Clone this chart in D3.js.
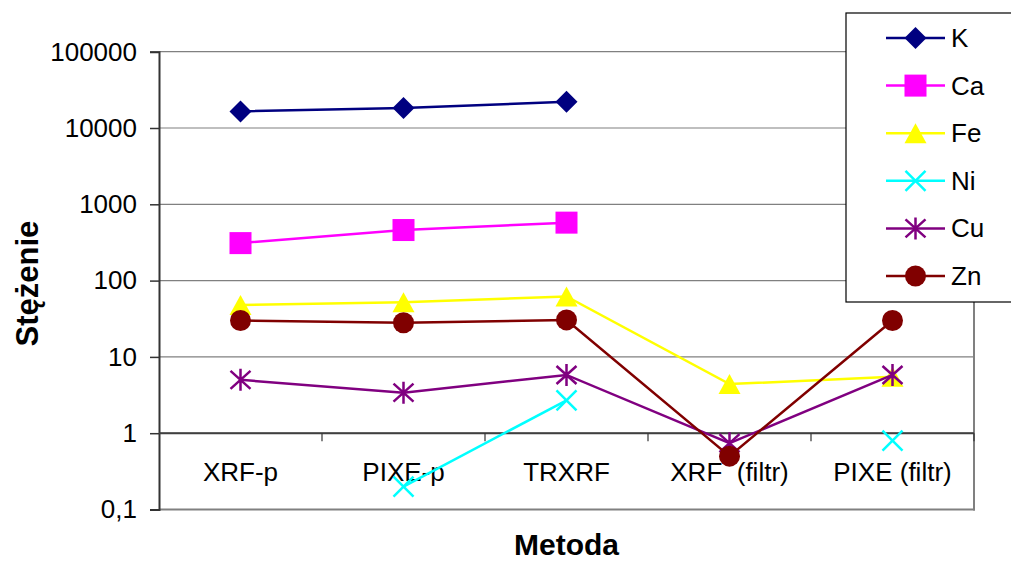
<!DOCTYPE html>
<html lang="pl">
<head>
    <meta charset="UTF-8">
    <title>Stężenie - Metoda</title>
    <script src="https://d3js.org/d3.v7.min.js"></script>
    <style>
        body { margin: 0; background: #fff; }
        svg { display: block; font-family: Arial, "Liberation Sans", sans-serif; }
    </style>
</head>
<body>
    <svg width="1011" height="561"></svg>

    <script>
        // dane
        const categories = ["XRF-p", "PIXE-p", "TRXRF", "XRF  (filtr)", "PIXE (filtr)"];
        const seriesNames = ["K", "Ca", "Fe", "Ni", "Cu", "Zn"];
        const K  = [16500, 18300, 22000, null, null];
        const Ca = [310, 460, 575, null, null];
        const Fe = [48, 52, 62, 4.4, 5.5];
        const Ni = [null, 0.2, 2.7, null, 0.8];
        const Cu = [5, 3.4, 5.8, 0.74, 5.8];
        const Zn = [30, 28, 30.5, 0.5, 30];
        const yTicks = [0.1, 1, 10, 100, 1000, 10000, 100000];
        const yTickLabels = ["0,1", "1", "10", "100", "1000", "10000", "100000"];

        const seriesValues = [K, Ca, Fe, Ni, Cu, Zn];
        const colors = ["#000080", "#FF00FF", "#FFFF00", "#00FFFF", "#800080", "#800000"];
        const markers = ["diamond", "square", "triangle", "x", "star", "circle"];

        const svg = d3.select("svg");
        const plotLeft = 159, plotRight = 974, plotTop = 51.7, plotBottom = 509.5;

        const x = d3.scaleBand()
            .domain(categories)
            .range([plotLeft, plotRight])
            .padding(0);

        const y = d3.scaleLog()
            .domain([0.1, 100000])
            .range([plotBottom, plotTop]);

        // linie siatki
        svg.append("g")
            .selectAll("line")
            .data(yTicks)
            .enter().append("line")
            .attr("x1", plotLeft)
            .attr("x2", plotRight)
            .attr("y1", d => y(d))
            .attr("y2", d => y(d))
            .attr("stroke", "#808080")
            .attr("stroke-width", 1.2);

        // ramka obszaru wykresu (prawa i dolna krawędź)
        svg.append("line")
            .attr("x1", plotRight).attr("x2", plotRight)
            .attr("y1", plotTop).attr("y2", plotBottom + 1)
            .attr("stroke", "#808080").attr("stroke-width", 2);
        svg.append("line")
            .attr("x1", plotLeft).attr("x2", plotRight + 1)
            .attr("y1", plotBottom).attr("y2", plotBottom)
            .attr("stroke", "#808080").attr("stroke-width", 2);

        // oś Y
        const yAxis = d3.axisLeft(y)
            .tickValues(yTicks)
            .tickFormat((d, i) => yTickLabels[i])
            .tickSize(9)
            .tickPadding(13);

        const gy = svg.append("g")
            .attr("transform", `translate(${plotLeft},0)`)
            .call(yAxis);
        gy.select(".domain").attr("stroke", "#333").attr("stroke-width", 2);
        gy.selectAll(".tick line").attr("stroke", "#333").attr("stroke-width", 1.5);
        gy.selectAll(".tick text")
            .attr("fill", "#000")
            .style("font-size", "26px")
            .style("font-family", "Arial, 'Liberation Sans', sans-serif");

        // oś X przecina oś Y w wartości 1
        const xAxisY = y(1);
        svg.append("line")
            .attr("x1", plotLeft).attr("x2", plotRight)
            .attr("y1", xAxisY).attr("y2", xAxisY)
            .attr("stroke", "#404040").attr("stroke-width", 2);

        const bounds = categories.map(c => x(c) + x.bandwidth());
        svg.append("g")
            .selectAll("line")
            .data(bounds)
            .enter().append("line")
            .attr("x1", d => d).attr("x2", d => d)
            .attr("y1", xAxisY).attr("y2", xAxisY + 8)
            .attr("stroke", "#333").attr("stroke-width", 1.2);

        svg.append("g")
            .selectAll("text")
            .data(categories)
            .enter().append("text")
            .attr("x", d => x(d) + x.bandwidth() / 2)
            .attr("y", xAxisY + 48)
            .attr("text-anchor", "middle")
            .style("font-size", "26px")
            .style("white-space", "pre")
            .attr("xml:space", "preserve")
            .text(d => d);

        // tytuły osi
        svg.append("text")
            .attr("x", (plotLeft + plotRight) / 2)
            .attr("y", 555)
            .attr("text-anchor", "middle")
            .style("font-size", "30px")
            .style("font-weight", "bold")
            .text("Metoda");

        svg.append("text")
            .attr("transform", `translate(38,${(plotTop + plotBottom) / 2 + 3}) rotate(-90)`)
            .attr("text-anchor", "middle")
            .style("font-size", "31px")
            .style("font-weight", "bold")
            .text("Stężenie");

        // znaczniki
        function drawMarker(g, type, color, cx, cy) {
            if (type === "diamond") {
                g.append("path")
                    .attr("d", `M${cx},${cy - 11}L${cx + 11},${cy}L${cx},${cy + 11}L${cx - 11},${cy}Z`)
                    .attr("fill", color);
            } else if (type === "square") {
                g.append("rect")
                    .attr("x", cx - 11).attr("y", cy - 11)
                    .attr("width", 22).attr("height", 22)
                    .attr("fill", color);
            } else if (type === "triangle") {
                g.append("path")
                    .attr("d", `M${cx},${cy - 10}L${cx + 11},${cy + 10}L${cx - 11},${cy + 10}Z`)
                    .attr("fill", color);
            } else if (type === "circle") {
                g.append("circle")
                    .attr("cx", cx).attr("cy", cy).attr("r", 10.5)
                    .attr("fill", color);
            } else if (type === "x") {
                g.append("path")
                    .attr("d", `M${cx - 10},${cy - 10}L${cx + 10},${cy + 10}M${cx - 10},${cy + 10}L${cx + 10},${cy - 10}`)
                    .attr("stroke", color).attr("stroke-width", 2.5).attr("fill", "none");
            } else if (type === "star") {
                g.append("path")
                    .attr("d", `M${cx},${cy - 11}L${cx},${cy + 11}M${cx - 10},${cy - 9}L${cx + 10},${cy + 9}M${cx - 10},${cy + 9}L${cx + 10},${cy - 9}`)
                    .attr("stroke", color).attr("stroke-width", 2.5).attr("fill", "none");
            }
        }

        const line = d3.line()
            .defined(d => d.v !== null)
            .x(d => x(d.c) + x.bandwidth() / 2)
            .y(d => y(d.v));

        seriesValues.forEach((vals, s) => {
            const pts = vals.map((v, i) => ({ c: categories[i], v: v }));
            const g = svg.append("g");
            g.append("path")
                .datum(pts)
                .attr("d", line)
                .attr("fill", "none")
                .attr("stroke", colors[s])
                .attr("stroke-width", 2.5);
            pts.filter(d => d.v !== null).forEach(d => {
                drawMarker(g, markers[s], colors[s], x(d.c) + x.bandwidth() / 2, y(d.v));
            });
        });

        // legenda
        const legend = svg.append("g");
        legend.append("rect")
            .attr("x", 846).attr("y", 13)
            .attr("width", 180).attr("height", 289)
            .attr("fill", "#fff")
            .attr("stroke", "#000")
            .attr("stroke-width", 1.2);

        seriesNames.forEach((name, s) => {
            const ly = 38 + s * 47.6;
            legend.append("line")
                .attr("x1", 886).attr("x2", 945)
                .attr("y1", ly).attr("y2", ly)
                .attr("stroke", colors[s]).attr("stroke-width", 2.5);
            drawMarker(legend, markers[s], colors[s], 915.5, ly);
            legend.append("text")
                .attr("x", 951)
                .attr("y", ly + 9)
                .style("font-size", "26px")
                .text(name);
        });
    </script>
</body>
</html>
